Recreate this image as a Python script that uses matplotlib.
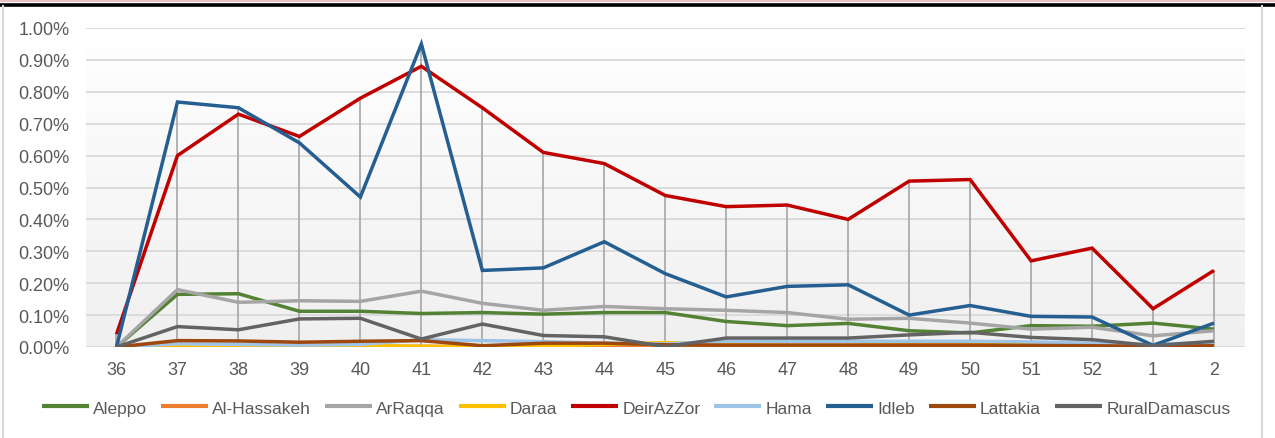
import matplotlib
matplotlib.use("Agg")
import matplotlib.pyplot as plt
import numpy as np
from matplotlib.lines import Line2D
from matplotlib.ticker import FuncFormatter

# --- Data (values in percent) ---
weeks = ["36", "37", "38", "39", "40", "41", "42", "43", "44", "45",
         "46", "47", "48", "49", "50", "51", "52", "1", "2"]

aleppo = [0.0, 0.165, 0.167, 0.112, 0.112, 0.105, 0.108, 0.103, 0.108, 0.108,
          0.080, 0.067, 0.074, 0.051, 0.044, 0.067, 0.065, 0.075, 0.056]
al_hassakeh = [0.0, 0.002, 0.002, 0.002, 0.002, 0.002, 0.002, 0.002, 0.002, 0.002,
               0.002, 0.002, 0.002, 0.002, 0.002, 0.002, 0.002, 0.001, 0.002]
arraqqa = [0.0, 0.180, 0.140, 0.145, 0.143, 0.175, 0.137, 0.115, 0.127, 0.120,
           0.115, 0.108, 0.087, 0.090, 0.075, 0.056, 0.062, 0.035, 0.051]
daraa = [0.0, 0.002, 0.003, 0.001, 0.005, 0.002, 0.0, 0.003, 0.008, 0.014,
         0.008, 0.006, 0.006, 0.010, 0.012, 0.006, 0.003, 0.001, 0.002]
deirazzor = [0.04, 0.60, 0.73, 0.66, 0.78, 0.88, 0.75, 0.61, 0.575, 0.475,
             0.44, 0.445, 0.40, 0.52, 0.525, 0.27, 0.31, 0.12, 0.24]
hama = [0.0, 0.010, 0.008, 0.006, 0.008, 0.023, 0.020, 0.017, 0.012, 0.010,
        0.018, 0.018, 0.018, 0.018, 0.018, 0.016, 0.012, 0.008, 0.015]
idleb = [0.0, 0.768, 0.75, 0.64, 0.47, 0.95, 0.24, 0.248, 0.33, 0.23,
         0.157, 0.19, 0.195, 0.10, 0.13, 0.096, 0.094, 0.005, 0.075]
lattakia = [0.0, 0.020, 0.019, 0.015, 0.018, 0.020, 0.004, 0.012, 0.012, 0.007,
            0.006, 0.006, 0.006, 0.006, 0.006, 0.005, 0.004, 0.002, 0.004]
rural_damascus = [0.0, 0.064, 0.054, 0.088, 0.090, 0.025, 0.072, 0.036, 0.032, 0.001,
                  0.028, 0.028, 0.028, 0.038, 0.046, 0.030, 0.023, 0.004, 0.018]

series_names = ["Aleppo", "Al-Hassakeh", "ArRaqqa", "Daraa", "DeirAzZor",
                "Hama", "Idleb", "Lattakia", "RuralDamascus"]
series_values = [aleppo, al_hassakeh, arraqqa, daraa, deirazzor,
                 hama, idleb, lattakia, rural_damascus]
series_colors = ["#548235", "#ED7D31", "#A5A5A5", "#FFC000", "#C00000",
                 "#9DC3E6", "#255E91", "#9E480E", "#636363"]

# --- Figure ---
plt.rcParams['font.family'] = ['Liberation Sans', 'DejaVu Sans']
fig = plt.figure(figsize=(12.75, 4.39), dpi=100)
ax = fig.add_axes([86 / 1275, 1 - 348 / 439, (1244.5 - 86) / 1275, (348 - 29) / 439])

x = np.arange(len(weeks))
data = np.array(series_values)

# gradient background of the plot area
grad = np.linspace(0, 1, 256).reshape(-1, 1)
ax.imshow(grad, extent=[0, 1, 0, 1], transform=ax.transAxes,
          cmap=matplotlib.colors.LinearSegmentedColormap.from_list("bg", ["#F0F0F0", "#FFFFFF"]),
          origin="lower", aspect="auto", zorder=0)

# high-low lines
ax.vlines(x, data.min(axis=0), data.max(axis=0), color="#A6A6A6", lw=1.2, zorder=2)

for name, vals, col in zip(series_names, series_values, series_colors):
    ax.plot(x, vals, color=col, lw=2.5, label=name, zorder=3,
            solid_joinstyle="miter", solid_capstyle="butt")

ax.set_xlim(-0.5, len(weeks) - 0.5)
ax.set_ylim(0, 1.0)
ax.set_yticks(np.arange(0, 1.01, 0.1))
ax.yaxis.set_major_formatter(FuncFormatter(lambda v, p: f"{v:.2f}%"))
ax.set_xticks(x)
ax.set_xticklabels(weeks)
ax.grid(axis="y", color="#D9D9D9", lw=1.3, zorder=1)
ax.set_axisbelow(True)
for s in ax.spines.values():
    s.set_visible(False)
ax.tick_params(length=0, labelsize=13, colors="#595959")
ax.tick_params(axis="y", pad=12)
ax.tick_params(axis="x", pad=10)

leg = ax.legend(loc="center", bbox_to_anchor=(636 / 1275, 1 - 409 / 439), bbox_transform=fig.transFigure,
                ncol=9, frameon=False, fontsize=12.5, handlelength=2.7, handletextpad=0.25,
                columnspacing=0.8, labelcolor="#595959", borderaxespad=0, borderpad=0)
for h in leg.get_lines():
    h.set_linewidth(3.0)

# outer frame like the source document
fig.add_artist(Line2D([0, 1], [1 - 1.5 / 439, 1 - 1.5 / 439], color="#E8B4B4", lw=1.2))
fig.add_artist(Line2D([0, 1], [1 - 5.5 / 439, 1 - 5.5 / 439], color="black", lw=2.6))
fig.add_artist(Line2D([3 / 1275, 3 / 1275], [0, 1 - 7 / 439], color="#D9D9D9", lw=1.5))
fig.add_artist(Line2D([1262 / 1275, 1262 / 1275], [0, 1 - 7 / 439], color="#D9D9D9", lw=1.5))

fig.savefig("out.png", dpi=100)
